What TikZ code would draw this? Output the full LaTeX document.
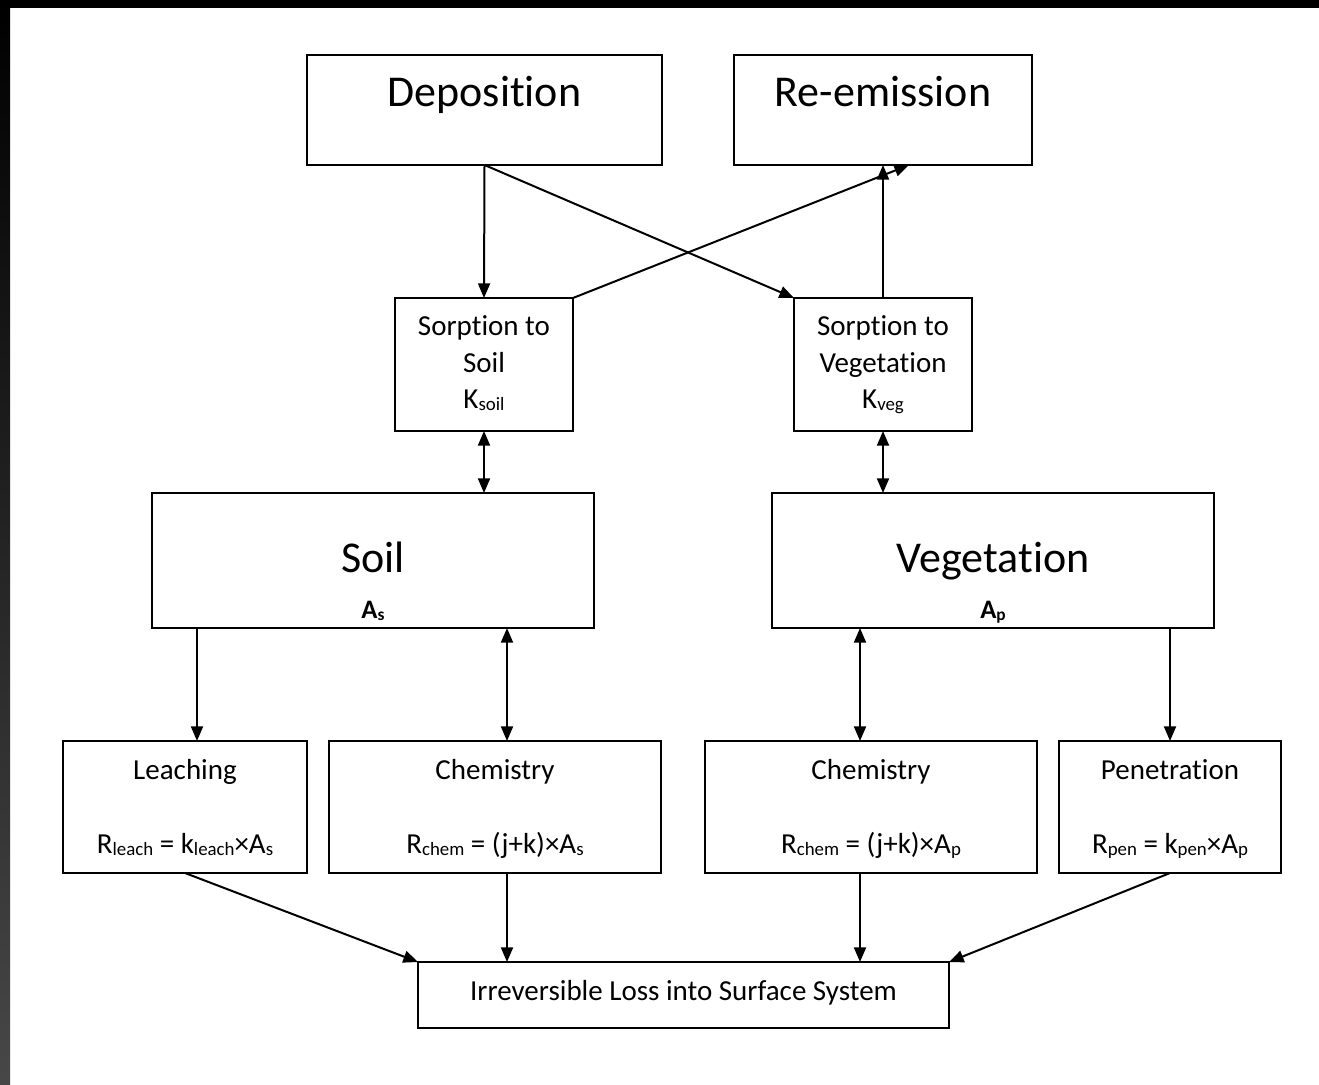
\documentclass[tikz,border=0pt]{standalone}
\usepackage{fontspec}
\setmainfont{Carlito}[Ligatures=NoCommon]
\usetikzlibrary{arrows.meta}
\newcommand\lo[1]{\raisebox{-0.1em}{\scalebox{0.65}{#1}}}
\newcommand\mkbox[5]{\node[box, minimum width={(#4-#2)*0.75pt}, minimum height={(#5-#3)*0.75pt}] (#1) at ({(#2+#4)/2},{(#3+#5)/2}) {};}
\begin{document}
\begin{tikzpicture}[x=0.75pt,y=-0.75pt,
  box/.style={draw, line width=1.5pt, inner sep=0pt, outer sep=0pt},
  arr/.style={line width=1.5pt, -{Triangle[length=11pt,width=9pt]}},
  darr/.style={line width=1.5pt, {Triangle[length=11pt,width=9pt]}-{Triangle[length=11pt,width=9pt]}},
  big/.style={font=\fontsize{33}{40}\selectfont, inner sep=0pt},
  med/.style={font=\fontsize{21.75}{26.5}\selectfont, inner sep=0pt},
  sml/.style={font=\fontsize{20}{24}\selectfont\bfseries, inner sep=0pt}]
\path[use as bounding box] (0,0) rectangle (1319,1084);
\fill[white] (0,0) rectangle (1319,1084);
\shade[top color=black, bottom color=black!72] (0,0) rectangle (10,1084);
\fill[black] (0,0) rectangle (1319,8);
% boxes
\mkbox{dep}{307}{55}{662}{165}
\mkbox{rem}{734}{55}{1032}{165}
\mkbox{ss}{395}{298}{573}{431}
\mkbox{sv}{794}{298}{972}{431}
\mkbox{soil}{152}{493}{594}{628}
\mkbox{veg}{772}{493}{1214}{628}
\mkbox{lea}{63}{741}{307}{873}
\mkbox{chs}{329}{741}{661}{873}
\mkbox{chv}{705}{741}{1037}{873}
\mkbox{pen}{1059}{741}{1281}{873}
\mkbox{irr}{418}{962}{949}{1028}
% texts
\node[big, anchor=base] (depT) at (484.5,107) {Deposition};
\node[big, anchor=base] (remT) at (883,107) {Re-emission};
\node[med, anchor=base] (ssT1) at (484,335) {Sorption to};
\node[med, anchor=base] (ssT2) at (484,372) {Soil};
\node[med, anchor=base] (ssT3) at (484,408) {K\lo{soil}};
\node[med, anchor=base] (svT1) at (883,335) {Sorption to};
\node[med, anchor=base] (svT2) at (883,372) {Vegetation};
\node[med, anchor=base] (svT3) at (883,408) {K\lo{veg}};
\node[big, anchor=base] (soilT1) at (373,572) {Soil};
\node[sml, anchor=base] (soilT2) at (373,618) {A\lo{s}};
\node[big, anchor=base] (vegT1) at (993,572) {Vegetation};
\node[sml, anchor=base] (vegT2) at (993,618) {A\lo{p}};
\node[med, anchor=base] (leaT1) at (185,779) {Leaching};
\node[med, anchor=base] (leaT2) at (185,853) {R\lo{leach} = k\lo{leach}×A\lo{s}};
\node[med, anchor=base] (chsT1) at (495,779) {Chemistry};
\node[med, anchor=base] (chsT2) at (495,853) {R\lo{chem} = (j+k)×A\lo{s}};
\node[med, anchor=base] (chvT1) at (871,779) {Chemistry};
\node[med, anchor=base] (chvT2) at (871,853) {R\lo{chem} = (j+k)×A\lo{p}};
\node[med, anchor=base] (penT1) at (1170,779) {Penetration};
\node[med, anchor=base] (penT2) at (1170,853) {R\lo{pen} = k\lo{pen}×A\lo{p}};
\node[med, anchor=base] (irrT) at (683.5,1000) {Irreversible Loss into Surface System};
% connectors
\coordinate (remIn) at ([xshift=19.5pt]rem.south);
\draw[arr] (dep.south) -- (ss.north);
\draw[arr] (dep.south) -- (sv.north west);
\draw[arr] (ss.north east) -- (remIn);
\draw[arr] (sv.north) -- (rem.south);
\draw[darr] (ss.south) -- (ss.south |- soil.north);
\draw[darr] (sv.south) -- (sv.south |- veg.north);
\coordinate (a1) at ([xshift=9pt]lea.north);
\coordinate (a2) at ([xshift=9pt]chs.north);
\coordinate (a3) at ([xshift=-8.25pt]chv.north);
\draw[arr] (a1 |- soil.south) -- (a1);
\draw[darr] (a2 |- soil.south) -- (a2);
\draw[darr] (a3 |- veg.south) -- (a3);
\draw[arr] (pen.north |- veg.south) -- (pen.north);
\draw[arr] (lea.south) -- (irr.north west);
\draw[arr] (a2 |- chs.south) -- (a2 |- irr.north);
\draw[arr] (a3 |- chv.south) -- (a3 |- irr.north);
\draw[arr] (pen.south) -- (irr.north east);
\end{tikzpicture}
\end{document}
